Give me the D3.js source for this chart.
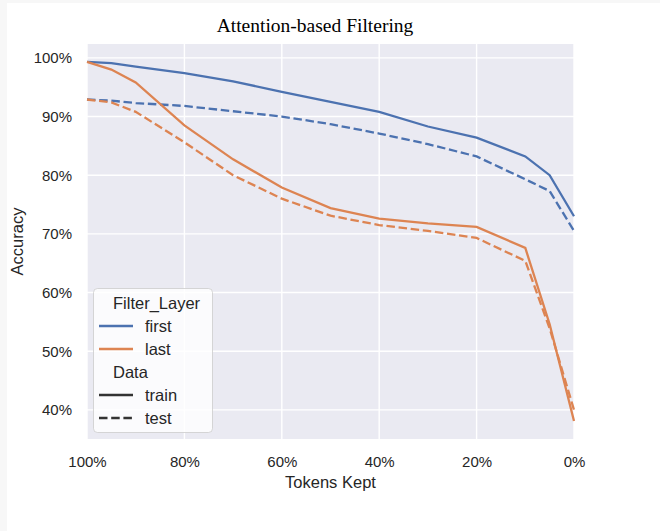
<!DOCTYPE html>
<html>
<head>
<meta charset="utf-8">
<script src="https://cdn.jsdelivr.net/npm/d3@7"></script>
<style>
  body { margin: 0; background: #f7f7f7; }
  svg { display: block; }
</style>
</head>
<body>
<div id="chart"></div>
<script>
// data (accuracy in %)
var tokensKept = [100, 95, 90, 80, 70, 60, 50, 40, 30, 20, 10, 5, 0];
var firstTrain = [99.3, 99.1, 98.5, 97.4, 96.0, 94.2, 92.5, 90.8, 88.3, 86.4, 83.2, 80.0, 73.0];
var firstTest  = [92.9, 92.7, 92.3, 91.8, 90.9, 90.0, 88.7, 87.1, 85.3, 83.2, 79.3, 77.3, 70.5];
var lastTrain  = [99.3, 98.0, 95.8, 88.5, 82.7, 77.9, 74.4, 72.6, 71.8, 71.2, 67.6, 54.6, 38.1];
var lastTest   = [92.9, 92.4, 90.8, 85.6, 80.0, 76.0, 73.1, 71.5, 70.5, 69.3, 65.4, 53.9, 40.0];
var xTicks = [100, 80, 60, 40, 20, 0];
var yTicks = [40, 50, 60, 70, 80, 90, 100];

var series = [
  {layer: "first", data: "train", values: firstTrain},
  {layer: "first", data: "test", values: firstTest},
  {layer: "last", data: "train", values: lastTrain},
  {layer: "last", data: "test", values: lastTest}
];
var colors = {first: "#4C72B0", last: "#DD8452"};
var dash = "8.5,3.7";

// figure & plot area
var W = 660, H = 531;
var plot = {left: 87, right: 574, top: 44, bottom: 439};
var textColor = "#262626";
var sans = "'Liberation Sans', Arial, sans-serif";

var svg = d3.select("#chart")
    .append("svg")
    .attr("width", W)
    .attr("height", H);

svg.append("rect")
    .attr("x", 7).attr("y", 3)
    .attr("width", W - 7).attr("height", H - 3)
    .attr("fill", "#ffffff");

var x = d3.scaleLinear()
    .domain([100, 0])
    .range([plot.left, plot.right]);

var y = d3.scaleLinear()
    .domain([35.04, 102.36])
    .range([plot.bottom, plot.top]);

// background + grid
svg.append("rect")
    .attr("x", plot.left).attr("y", plot.top)
    .attr("width", plot.right - plot.left)
    .attr("height", plot.bottom - plot.top)
    .attr("fill", "#EAEAF2");

svg.append("g")
    .selectAll("line")
    .data(xTicks)
    .enter()
    .append("line")
    .attr("x1", function(d) { return x(d); })
    .attr("x2", function(d) { return x(d); })
    .attr("y1", plot.top).attr("y2", plot.bottom)
    .attr("stroke", "#fff").attr("stroke-width", 1.4);

svg.append("g")
    .selectAll("line")
    .data(yTicks)
    .enter()
    .append("line")
    .attr("x1", plot.left).attr("x2", plot.right)
    .attr("y1", function(d) { return y(d); })
    .attr("y2", function(d) { return y(d); })
    .attr("stroke", "#fff").attr("stroke-width", 1.4);

// axes (no domain line, no ticks, like seaborn darkgrid)
var xAxis = svg.append("g")
    .attr("transform", "translate(0," + plot.bottom + ")")
    .call(d3.axisBottom(x).tickValues(xTicks).tickSize(0).tickPadding(17)
        .tickFormat(function(d) { return d + "%"; }));

var yAxis = svg.append("g")
    .attr("transform", "translate(" + plot.left + ",0)")
    .call(d3.axisLeft(y).tickValues(yTicks).tickSize(0).tickPadding(15)
        .tickFormat(function(d) { return d + "%"; }));

[xAxis, yAxis].forEach(function(a) {
  a.select(".domain").remove();
  a.selectAll("text")
      .attr("fill", textColor)
      .style("font-family", sans)
      .style("font-size", "15px");
});

// lines
var line = d3.line()
    .x(function(d, i) { return x(tokensKept[i]); })
    .y(function(d) { return y(d); });

svg.append("g")
    .selectAll("path")
    .data(series)
    .enter()
    .append("path")
    .attr("d", function(d) { return line(d.values); })
    .attr("fill", "none")
    .attr("stroke", function(d) { return colors[d.layer]; })
    .attr("stroke-width", 2.3)
    .attr("stroke-dasharray", function(d) { return d.data == "test" ? dash : null; });

// titles
svg.append("text")
    .attr("x", 315).attr("y", 32)
    .attr("text-anchor", "middle")
    .style("font-family", "'Liberation Serif', 'Times New Roman', serif")
    .style("font-size", "19.5px")
    .attr("fill", "#000")
    .text("Attention-based Filtering");

svg.append("text")
    .attr("x", (plot.left + plot.right) / 2).attr("y", 488)
    .attr("text-anchor", "middle")
    .style("font-family", sans)
    .style("font-size", "16.5px")
    .attr("fill", textColor)
    .text("Tokens Kept");

svg.append("text")
    .attr("transform", "translate(23," + ((plot.top + plot.bottom) / 2) + ")rotate(-90)")
    .attr("text-anchor", "middle")
    .style("font-family", sans)
    .style("font-size", "16.5px")
    .attr("fill", textColor)
    .text("Accuracy");

// legend
var legendRows = [
  {label: "Filter_Layer", title: true},
  {label: "first", color: colors.first},
  {label: "last", color: colors.last},
  {label: "Data", title: true},
  {label: "train", color: "#333333"},
  {label: "test", color: "#333333", dash: dash}
];

var legend = svg.append("g");

legend.append("rect")
    .attr("x", 93.5).attr("y", 288.5)
    .attr("width", 119).attr("height", 144)
    .attr("rx", 4)
    .attr("fill", "#ffffff").attr("fill-opacity", 0.8)
    .attr("stroke", "#cccccc").attr("stroke-opacity", 0.8);

var row = legend.selectAll("g.row")
    .data(legendRows)
    .enter()
    .append("g")
    .attr("transform", function(d, i) { return "translate(0," + (303 + i * 23) + ")"; });

row.filter(function(d) { return !d.title; })
    .append("line")
    .attr("x1", 99).attr("x2", 133)
    .attr("stroke", function(d) { return d.color; })
    .attr("stroke-width", 2.3)
    .attr("stroke-dasharray", function(d) { return d.dash || null; });

row.append("text")
    .attr("x", function(d) { return d.title ? 113 : 145; })
    .attr("dy", "0.35em")
    .style("font-family", sans)
    .style("font-size", "16.5px")
    .attr("fill", textColor)
    .text(function(d) { return d.label; });
</script>
</body>
</html>
